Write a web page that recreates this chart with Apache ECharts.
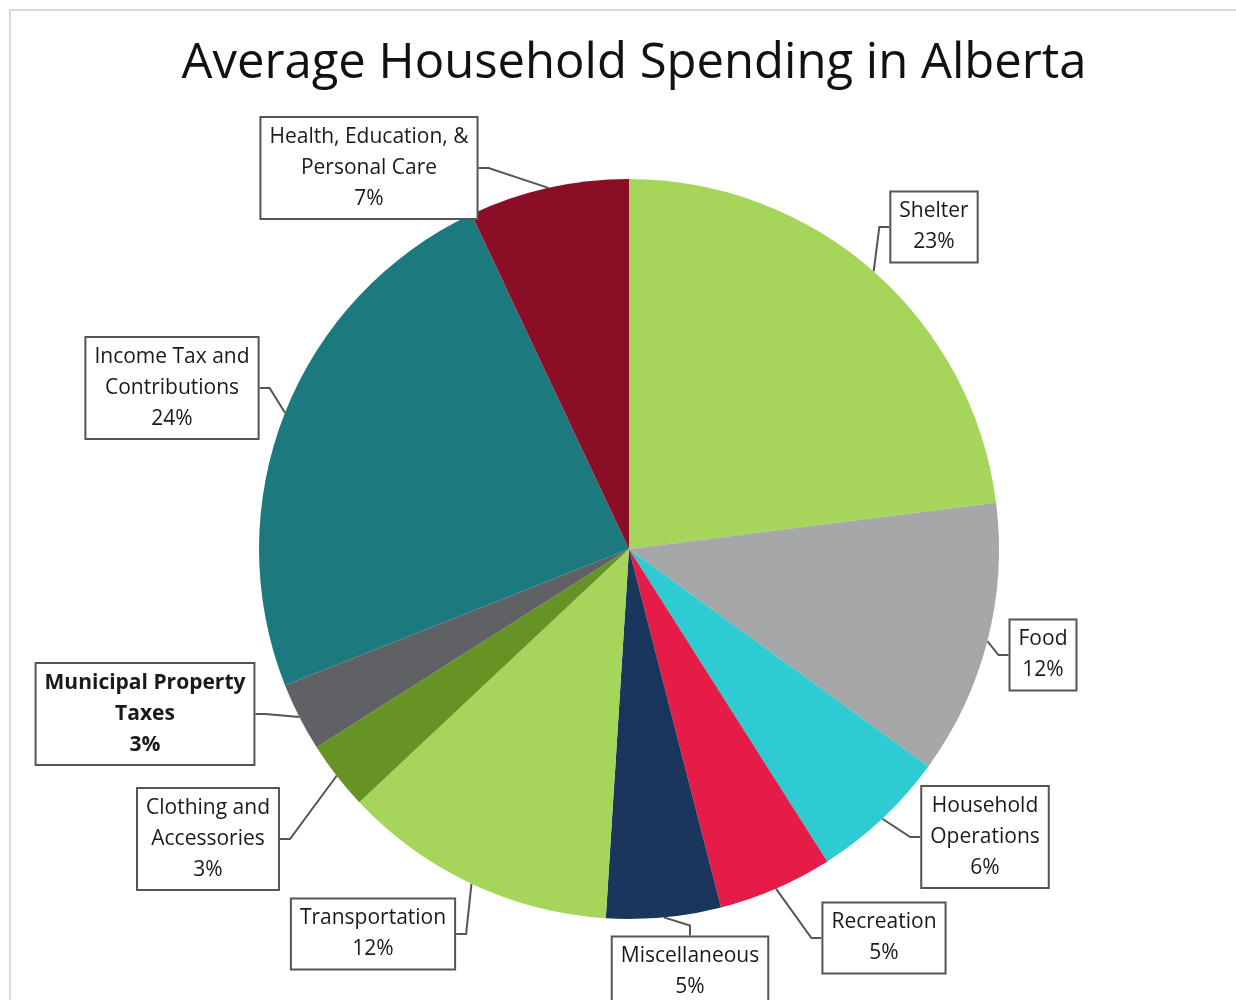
<!DOCTYPE html>
<html>
<head>
<meta charset="utf-8">
<script src="https://cdn.jsdelivr.net/npm/echarts@6/dist/echarts.min.js"></script>
<style>
  html, body { margin: 0; padding: 0; background: #fff; }
  #frame { position: absolute; left: 9px; top: 9px; width: 1240px; height: 1000px; border: 2px solid #d9d9d9; box-sizing: border-box; }
  #main { position: absolute; left: 0; top: 0; width: 1236px; height: 1000px; }
</style>
</head>
<body>
<div id="frame"></div>
<div id="main"></div>
<script>
// 数据
const categories = ['Shelter', 'Food', 'Household\nOperations', 'Recreation', 'Miscellaneous',
    'Transportation', 'Clothing and\nAccessories', 'Municipal Property\nTaxes', 'Income Tax and\nContributions',
    'Health, Education, &\nPersonal Care'];
const shares = [23, 12, 6, 5, 5, 12, 3, 3, 24, 7];
const colors = ['#a5d65b', '#a6a7a9', '#2ecbd2', '#e51c47', '#1b365d',
    '#a5d65b', '#659424', '#606164', '#1c7a7e', '#8a0e26'];

// 标签框中心位置
const labelPos = [
    [934, 227], [1043, 655], [985, 837], [884, 938], [690, 972],
    [373, 934], [208, 839], [145, 714], [172, 388], [369, 168]
];

const chart = echarts.init(document.getElementById('main'));

const seriesData = [];
for (let i = 0; i < shares.length; i++) {
    seriesData.push({
        name: categories[i],
        value: shares[i],
        itemStyle: { color: colors[i] },
        label: i === 7 ? { fontWeight: 'bold' } : {}
    });
}

const option = {
    animation: false,
    title: {
        text: 'Average Household Spending in Alberta',
        left: 629,
        textAlign: 'center',
        top: 35,
        textStyle: { fontFamily: 'Open Sans', fontSize: 49, fontWeight: 'normal', color: '#111' }
    },
    series: [{
        type: 'pie',
        center: [629, 549],
        radius: [0, 370],
        startAngle: 90,
        clockwise: true,
        silent: true,
        percentPrecision: 0,
        itemStyle: { borderWidth: 0 },
        label: {
            show: true,
            position: 'outside',
            formatter: '{b}\n{d}%',
            fontFamily: 'Open Sans',
            fontSize: 21,
            lineHeight: 31,
            color: '#1a1a1a',
            align: 'center',
            backgroundColor: '#fff',
            borderColor: '#555',
            borderWidth: 2,
            padding: [4, 8, 3, 8]
        },
        labelLine: {
            show: true,
            length: 20,
            length2: 10,
            lineStyle: { color: '#555', width: 2 }
        },
        labelLayout: function (params) {
            const p = labelPos[params.dataIndex];
            return { x: p[0], y: p[1], align: 'center', verticalAlign: 'middle' };
        },
        data: seriesData
    }]
};

chart.setOption(option);
</script>
</body>
</html>
